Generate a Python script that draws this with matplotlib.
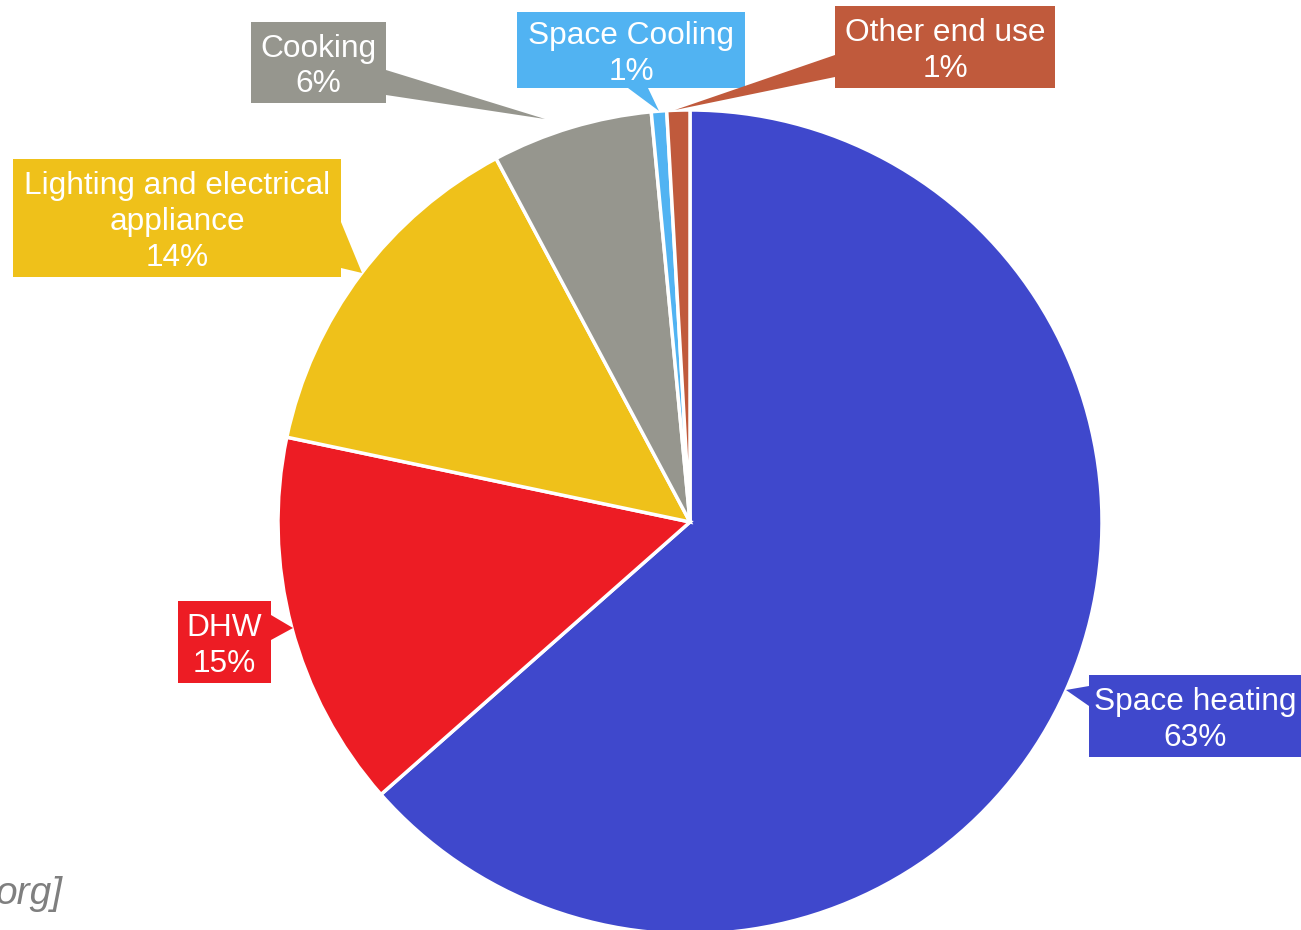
import matplotlib.pyplot as plt
from matplotlib.patches import Polygon, Rectangle

labels = ['Space heating', 'DHW', 'Lighting and electrical\nappliance', 'Cooking', 'Space Cooling', 'Other end use']
shares = [63.5, 14.8, 13.9, 6.3, 0.6, 0.9]
pct_text = ['63%', '15%', '14%', '6%', '1%', '1%']
colors = ['#3F48CC', '#ED1C24', '#EFC11A', '#96968E', '#51B3F2', '#C05A3C']

W, H = 1301, 930

# callout layout in image pixels: box (x0, y0, x1, y1), pointer base (2 pts) and tip
callouts = [
    ((1089, 675, 1301, 757), [(1089, 686), (1089, 706)], (1066, 690)),
    ((178, 601, 271, 683), [(271, 615), (271, 640)], (293, 628)),
    ((13, 159, 341, 277), [(341, 222), (341, 268)], (362, 273)),
    ((251, 22, 386, 103), [(386, 70), (386, 95)], (545, 119)),
    ((517, 12, 745, 88), [(628, 88), (648, 88)], (659, 111)),
    ((835, 6, 1055, 88), [(835, 55), (835, 77)], (675, 110)),
]


def fy(y):
    return H - y


fig = plt.figure(figsize=(W / 100, H / 100), dpi=100)
ax = fig.add_axes([0, 0, 1, 1])

ax.pie(shares, colors=colors, startangle=90, counterclock=False,
       center=(690, fy(522)), radius=412,
       wedgeprops=dict(edgecolor='white', linewidth=2.5))

# pie() resets the limits, so set them afterwards
ax.set_xlim(0, W)
ax.set_ylim(0, H)
ax.set_aspect('equal')
ax.axis('off')

for (box, base, tip), lab, pct, col in zip(callouts, labels, pct_text, colors):
    x0, y0, x1, y1 = box
    ax.add_patch(Rectangle((x0, fy(y1)), x1 - x0, y1 - y0, facecolor=col,
                           edgecolor='none', zorder=3))
    pts = [(base[0][0], fy(base[0][1])), (base[1][0], fy(base[1][1])), (tip[0], fy(tip[1]))]
    ax.add_patch(Polygon(pts, closed=True, facecolor=col, edgecolor='none', zorder=3))
    ax.text((x0 + x1) / 2, fy((y0 + y1) / 2 + 4), lab + '\n' + pct, ha='center', va='center',
            color='white', fontsize=22.8, family='Liberation Sans', linespacing=1.24, zorder=4)

ax.text(-4, fy(894), 'org]', ha='left', va='center', fontsize=28, style='italic',
        color='#7F7F7F', family='Liberation Sans')

fig.savefig('out.png', dpi=100)
